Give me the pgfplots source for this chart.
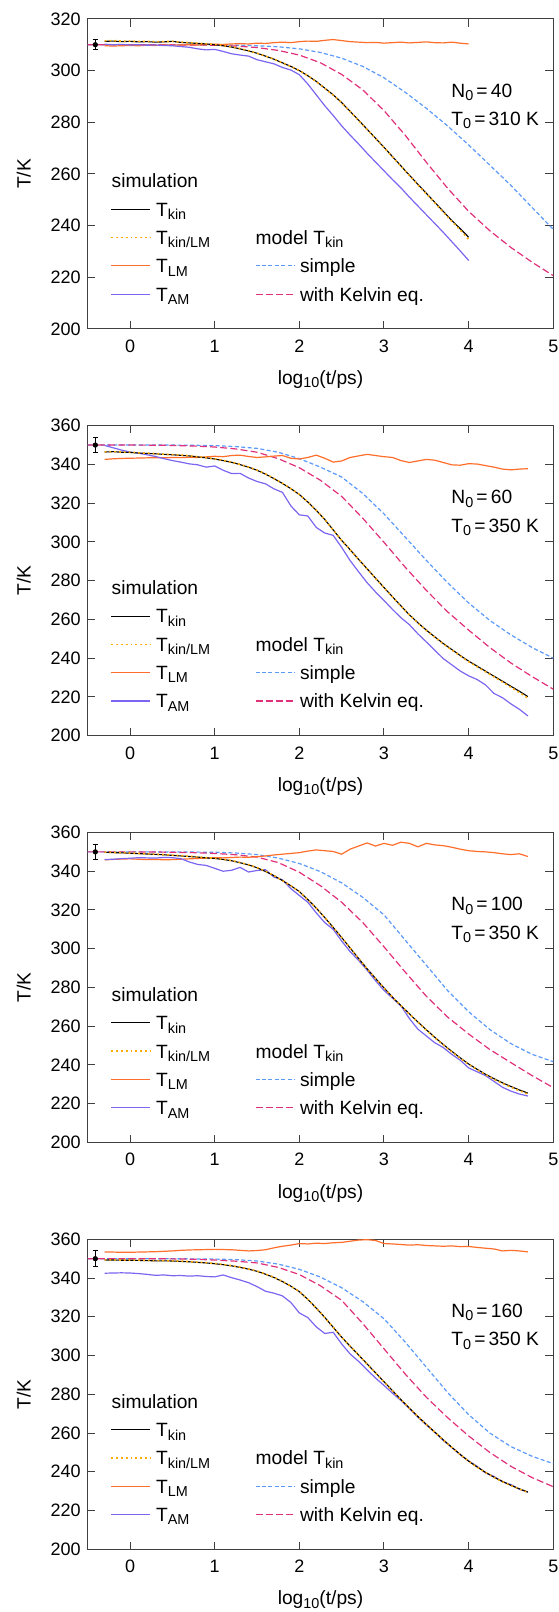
\documentclass[border=0pt]{standalone}
\usepackage{fontspec}
\setmainfont{Liberation Sans}
\usepackage{pgfplots}
\usepackage{pgfplotstable}
\pgfplotsset{compat=1.18}

\definecolor{cLM}{HTML}{FF6E2A}
\definecolor{cKLM}{HTML}{FFAA00}
\definecolor{cAM}{HTML}{7A66F0}
\definecolor{cSimple}{HTML}{5C9AFA}
\definecolor{cKelvin}{HTML}{E0307A}

\newcommand\sub[1]{\raisebox{-1.7pt}{\fontsize{7.2}{8}\selectfont #1}}

\tikzset{
  kin/.style={black, line width=0.55pt},
  kinlm/.style={cKLM, line width=0.8pt, dash pattern=on 0.9pt off 1.5pt},
  lm/.style={cLM, line width=0.6pt},
  am/.style={cAM, line width=0.6pt},
  simple/.style={cSimple, line width=0.6pt, dash pattern=on 2pt off 1.2pt},
  kelvin/.style={cKelvin, line width=0.6pt, dash pattern=on 3.5pt off 1.6pt},
}

% simulation runs: x = log10(t/ps)
\pgfplotstableread{
x kin kinlm lm am
-0.3 311.3 311.5 309.6 310.2
-0.2 311.4 311.6 309.5 310.0
-0.1 311.2 311.4 309.6 310.1
0.0 311.3 311.4 309.7 309.9
0.1 311.1 311.3 309.6 310.0
0.2 311.2 311.3 309.8 309.8
0.3 311.0 311.2 309.7 309.9
0.4 311.1 311.2 309.9 309.7
0.5 311.3 311.3 309.8 309.6
0.6 310.9 311.0 309.9 309.3
0.7 310.7 310.8 310.0 309.0
0.8 310.5 310.6 309.9 308.4
0.9 310.3 310.4 310.1 308.0
1.0 310.0 310.1 310.2 308.2
1.1 309.6 309.7 310.1 307.4
1.2 309.1 309.2 310.3 306.5
1.3 308.4 308.5 310.4 306.0
1.4 307.6 307.7 310.3 305.6
1.5 306.7 306.7 310.6 304.2
1.6 305.6 305.6 310.5 303.4
1.7 304.4 304.4 310.8 302.6
1.8 303.0 303.0 311.0 301.2
1.9 301.6 301.6 310.8 300.2
2.0 300.0 300.0 311.2 298.4
2.1 298.0 298.0 311.4 294.8
2.2 295.8 295.7 311.3 290.6
2.3 293.2 293.1 311.7 286.4
2.4 290.6 290.5 312.0 282.6
2.5 287.6 287.5 311.6 278.6
2.6 284.2 284.1 311.2 275.0
2.7 280.8 280.7 311.0 271.6
2.8 277.3 277.2 310.8 268.0
2.9 273.8 273.7 310.9 264.6
3.0 270.3 270.2 310.6 261.2
3.1 266.7 266.6 310.8 257.8
3.2 263.1 263.0 311.0 254.6
3.3 259.5 259.4 310.7 251.0
3.4 256.0 255.8 310.9 247.6
3.5 252.5 252.3 311.1 244.2
3.6 249.0 248.8 310.8 240.8
3.7 245.5 245.2 310.7 237.4
3.8 242.0 241.7 311.0 233.8
3.9 238.8 238.3 310.6 230.2
4.0 235.5 234.6 310.3 226.5
}\simA

\pgfplotstableread{
x kin kinlm lm am
-0.3 346.4 346.5 342.6 349.8
-0.2 346.6 346.7 342.9 348.6
-0.1 346.3 346.4 343.1 347.4
0.0 346.2 346.3 343.2 346.4
0.1 345.9 346.0 343.3 345.8
0.2 345.7 345.8 343.4 345.0
0.3 345.5 345.6 343.5 344.1
0.4 345.2 345.3 343.4 343.0
0.5 345.0 345.1 343.6 342.0
0.6 344.7 344.8 343.5 341.2
0.7 344.4 344.5 343.7 340.3
0.8 343.9 344.0 343.6 339.8
0.9 343.4 343.5 343.9 338.6
1.0 342.8 342.9 344.2 339.2
1.1 342.0 342.1 344.0 337.0
1.2 341.1 341.2 344.6 335.3
1.3 339.9 340.0 344.8 335.4
1.4 338.6 338.7 344.1 333.0
1.5 337.0 337.1 343.6 331.2
1.6 335.0 335.1 343.9 330.0
1.7 332.7 332.8 344.3 327.4
1.8 330.2 330.3 344.6 325.6
1.9 327.5 327.5 343.2 318.6
2.0 324.5 324.5 342.8 314.0
2.1 320.6 320.6 343.6 313.4
2.2 316.3 316.3 344.8 307.5
2.3 311.6 311.6 343.2 304.6
2.4 306.2 306.2 341.2 303.4
2.5 300.8 300.8 341.8 297.2
2.6 296.0 296.0 343.6 290.4
2.7 291.0 291.0 344.4 284.6
2.8 286.2 286.1 345.2 279.0
2.9 281.3 281.2 344.6 274.2
3.0 276.5 276.4 344.0 269.8
3.1 271.7 271.6 343.6 265.2
3.2 267.0 266.9 342.0 260.9
3.3 262.4 262.3 341.0 257.3
3.4 258.3 258.2 341.8 252.6
3.5 254.5 254.3 342.6 248.4
3.6 251.0 250.8 342.2 244.1
3.7 247.6 247.4 341.0 239.8
3.8 244.5 244.3 339.8 236.6
3.9 241.4 241.2 339.6 233.4
4.0 238.5 238.2 340.4 230.9
4.1 235.9 235.6 340.2 229.0
4.2 233.3 233.0 339.4 226.2
4.3 230.7 230.3 338.6 221.8
4.4 228.1 227.7 337.6 219.6
4.5 225.5 225.0 337.2 216.4
4.6 222.9 222.3 337.6 213.6
4.7 220.2 219.4 337.8 210.2
}\simB

\pgfplotstableread{
x kin kinlm lm am
-0.3 349.8 349.9 345.9 346.0
-0.2 349.6 349.7 346.1 346.2
-0.1 349.5 349.6 346.3 346.5
0.0 349.3 349.4 346.4 346.7
0.1 349.1 349.2 346.2 347.0
0.2 348.9 349.0 346.0 346.9
0.3 348.7 348.8 346.1 346.8
0.4 348.5 348.6 345.9 347.1
0.5 348.2 348.3 346.0 347.0
0.6 347.9 348.0 346.2 346.5
0.7 347.6 347.7 346.4 344.8
0.8 347.3 347.4 346.6 343.5
0.9 346.9 347.0 346.8 343.0
1.0 346.6 346.7 347.0 341.5
1.1 346.1 346.2 346.9 340.0
1.2 345.4 345.5 347.1 340.5
1.3 344.4 344.5 347.3 342.0
1.4 343.3 343.4 347.2 339.6
1.5 341.8 341.9 347.5 340.4
1.6 339.9 340.0 347.9 340.8
1.7 337.7 337.8 348.4 337.0
1.8 335.2 335.2 348.8 335.6
1.9 332.5 332.5 349.2 331.0
2.0 329.5 329.5 349.6 327.5
2.1 325.4 325.4 350.4 324.0
2.2 321.0 321.0 351.0 318.5
2.3 316.1 316.1 350.6 313.5
2.4 311.0 311.0 350.2 310.0
2.5 305.8 305.8 348.8 304.0
2.6 300.4 300.4 351.4 298.5
2.7 295.0 295.0 353.0 294.0
2.8 289.7 289.6 354.6 289.0
2.9 284.7 284.6 353.0 283.5
3.0 279.8 279.7 354.4 278.5
3.1 275.1 275.0 353.4 274.5
3.2 270.7 270.6 355.0 270.5
3.3 266.4 266.3 354.4 264.0
3.4 262.2 262.1 352.6 258.5
3.5 258.2 258.0 354.4 255.0
3.6 254.3 254.1 353.6 251.5
3.7 250.6 250.4 353.2 249.0
3.8 247.1 246.9 352.4 245.5
3.9 243.7 243.5 351.4 242.5
4.0 240.5 240.3 350.6 238.5
4.1 237.8 237.6 350.2 236.5
4.2 235.2 235.0 350.0 234.5
4.3 232.9 232.6 349.6 231.5
4.4 230.8 230.5 349.0 228.5
4.5 228.9 228.5 348.6 226.5
4.6 227.1 226.7 349.0 225.0
4.7 225.5 225.0 347.6 224.0
}\simC

\pgfplotstableread{
x kin kinlm lm am
-0.3 349.3 349.4 353.5 342.5
-0.2 349.3 349.4 353.4 342.6
-0.1 349.2 349.3 353.3 342.7
0.0 349.2 349.3 353.3 342.6
0.1 349.1 349.2 353.4 342.3
0.2 349.0 349.1 353.5 341.9
0.3 348.9 349.0 353.6 341.4
0.4 348.9 349.0 353.8 341.6
0.5 348.8 348.9 354.0 341.2
0.6 348.6 348.7 354.3 341.3
0.7 348.4 348.5 354.5 341.0
0.8 348.1 348.2 354.6 341.2
0.9 347.8 347.9 354.7 340.8
1.0 347.4 347.5 354.8 340.6
1.1 346.9 347.0 354.7 341.6
1.2 346.3 346.4 354.6 340.2
1.3 345.5 345.6 354.3 339.0
1.4 344.6 344.7 354.0 337.6
1.5 343.5 343.6 354.2 335.6
1.6 342.0 342.1 354.6 333.2
1.7 340.3 340.4 355.6 332.2
1.8 338.2 338.3 356.4 330.8
1.9 335.8 335.8 357.0 327.4
2.0 333.0 333.0 357.8 322.0
2.1 329.0 329.0 357.6 319.6
2.2 324.5 324.5 358.0 314.8
2.3 319.7 319.7 357.8 311.4
2.4 314.6 314.6 358.2 312.0
2.5 309.5 309.5 358.4 306.0
2.6 304.8 304.8 359.0 300.8
2.7 300.3 300.3 359.6 297.0
2.8 295.7 295.6 359.8 292.6
2.9 291.1 291.0 359.4 288.4
3.0 286.5 286.4 357.8 284.6
3.1 281.9 281.8 357.6 280.6
3.2 277.3 277.2 357.3 276.8
3.3 272.9 272.8 357.0 272.6
3.4 268.6 268.5 357.2 268.2
3.5 264.5 264.4 356.8 264.2
3.6 260.5 260.4 356.6 260.4
3.7 256.5 256.4 356.4 256.2
3.8 252.7 252.6 356.6 252.6
3.9 249.0 248.9 356.2 248.8
4.0 245.5 245.4 356.3 245.6
4.1 242.5 242.4 355.8 242.8
4.2 239.7 239.6 355.4 239.4
4.3 237.2 237.1 355.0 237.6
4.4 235.0 234.9 354.0 234.8
4.5 233.0 232.9 354.3 233.4
4.6 231.2 231.1 354.0 231.0
4.7 229.5 229.4 353.5 229.6
}\simD

% model curves
\pgfplotstableread{
x simple kelvin
-0.5 310.0 310.0
-0.25 310.0 310.0
0.0 310.0 310.0
0.25 310.0 310.0
0.5 310.0 309.95
0.75 309.95 309.9
1.0 309.9 309.8
1.25 309.8 309.5
1.5 309.6 308.9
1.75 309.2 307.8
2.0 308.4 306.0
2.25 307.0 303.0
2.5 304.8 298.5
2.75 301.6 292.5
3.0 297.2 284.5
3.25 291.6 275.0
3.5 285.4 264.5
3.75 278.6 254.5
4.0 271.2 245.5
4.25 263.4 238.0
4.5 255.5 231.5
4.75 247.0 225.8
5.0 238.5 220.6
}\modA

\pgfplotstableread{
x simple kelvin
-0.5 350.0 350.0
-0.25 350.0 350.0
0.0 350.0 350.0
0.25 350.0 349.95
0.5 350.0 349.8
0.75 349.9 349.5
1.0 349.7 349.0
1.25 349.2 348.0
1.5 348.3 346.3
1.75 346.3 343.0
2.0 343.0 338.3
2.25 338.6 331.8
2.5 333.5 323.5
2.75 325.0 312.2
3.0 314.5 299.8
3.25 302.5 287.0
3.5 290.5 275.0
3.75 279.0 264.0
4.0 268.5 254.5
4.25 259.5 245.5
4.5 252.0 237.5
4.75 245.5 230.5
5.0 240.0 224.0
}\modB

\pgfplotstableread{
x simple kelvin
-0.5 350.0 350.0
-0.25 350.0 350.0
0.0 350.0 350.0
0.25 350.0 349.95
0.5 349.95 349.8
0.75 349.9 349.6
1.0 349.8 349.2
1.25 349.4 348.5
1.5 348.6 347.3
1.75 346.8 344.5
2.0 344.0 339.5
2.25 339.8 332.5
2.5 334.0 324.0
2.75 326.5 313.5
3.0 317.5 301.0
3.25 304.5 288.0
3.5 291.5 275.5
3.75 278.5 264.8
4.0 267.5 256.0
4.25 258.3 248.0
4.5 251.0 241.2
4.75 245.5 234.5
5.0 241.7 228.3
}\modC

\pgfplotstableread{
x simple kelvin
-0.5 350.0 350.0
-0.25 350.0 350.0
0.0 350.0 350.0
0.25 350.0 349.95
0.5 349.95 349.9
0.75 349.9 349.7
1.0 349.8 349.3
1.25 349.5 348.7
1.5 348.8 347.8
1.75 347.2 345.5
2.0 344.5 341.8
2.25 340.5 336.0
2.5 335.0 328.5
2.75 327.8 316.5
3.0 319.0 303.5
3.25 307.0 290.5
3.5 294.0 278.5
3.75 281.0 268.0
4.0 269.5 258.5
4.25 260.0 250.0
4.5 253.0 242.8
4.75 248.0 237.0
5.0 244.2 232.3
}\modD

\pgfplotsset{
  panel/.style={
    scale only axis, width=232.8pt, height=155pt,
    xmin=-0.5, xmax=5, xtick={0,1,2,3,4,5},
    tick align=inside, tick pos=both, major tick length=3.9pt,
    axis line style={black!75, line width=0.5pt},
    every tick/.style={black!75, line width=0.5pt},
    /pgf/number format/assume math mode=true,
    tick label style={font=\fontsize{9}{10}\selectfont},
    xticklabel style={inner sep=0pt, anchor=base, yshift=-11.7pt},
    yticklabel style={inner sep=0pt, anchor=east, xshift=-3.3pt},
    xlabel={log\sub{10}(t/ps)}, ylabel={T/K},
    xlabel style={at={(axis description cs:0.5,0)}, anchor=base, yshift=-27.8pt},
    ylabel style={at={(axis description cs:-0.1375,0.5)}, anchor=center},
    legend columns=2, legend cell align=left,
    legend image code/.code={\draw[#1] (0pt,3.45pt) -- (19.3pt,3.45pt);},
    legend style={draw=none, fill=none, inner sep=0pt, outer sep=0pt,
      at={(axis description cs:0.0494,0.5)}, anchor=north west,
      cells={anchor=base west},
      nodes={inner sep=0pt, text height=7pt, text depth=3.4pt},
      row sep=3.75pt,
      /tikz/every odd column/.append style={column sep=2.6pt},
      /tikz/column 2/.style={column sep=2.6pt, nodes={text width=46.9pt}}},
  },
}

\newcommand\panellegend{%
  \addlegendimage{empty legend}\addlegendentry{\hspace*{-22.2pt}simulation}
  \addlegendimage{empty legend}\addlegendentry{}
  \addlegendimage{kin}\addlegendentry{T\sub{kin}}
  \addlegendimage{empty legend}\addlegendentry{}
  \addlegendimage{kinlm}\addlegendentry{T\sub{kin/LM}}
  \addlegendimage{empty legend}\addlegendentry{\hspace*{-22.2pt}model T\sub{kin}}
  \addlegendimage{lm}\addlegendentry{T\sub{LM}}
  \addlegendimage{simple}\addlegendentry{simple}
  \addlegendimage{am}\addlegendentry{T\sub{AM}}
  \addlegendimage{kelvin}\addlegendentry{with Kelvin eq.}
}

\newcommand\panelplots[2]{%
  \addplot[simple, forget plot] table[x=x, y=simple] {#2};
  \addplot[kelvin, forget plot] table[x=x, y=kelvin] {#2};
  \addplot[lm, forget plot] table[x=x, y=lm] {#1};
  \addplot[am, forget plot] table[x=x, y=am] {#1};
  \addplot[kin, forget plot] table[x=x, y=kin] {#1};
  \addplot[kinlm, forget plot] table[x=x, y=kinlm] {#1};
}

\begin{document}
\begin{tikzpicture}[font=\fontsize{9.6}{11}\selectfont]
\useasboundingbox (-43.85pt,-31.35pt) rectangle (235.15pt,774.65pt);

% N0 = 40
\begin{axis}[panel, at={(0pt,610.2pt)}, ymin=200, ymax=320, ytick={200,220,...,320}]
\panelplots{\simA}{\modA}
\addplot[black, mark=*, mark size=1.1pt, only marks, forget plot,
  error bars/.cd, y dir=both, y explicit, error bar style={line width=0.5pt},
  error mark options={rotate=90, mark size=1.4pt, line width=0.5pt}]
  coordinates {(-0.41,310) +- (0,2)};
\panellegend
\node[anchor=base west] at (rel axis cs:0.766,0.748) {N\sub{0}\,=\,40};
\node[anchor=base west] at (rel axis cs:0.766,0.656) {T\sub{0}\,=\,310 K};
\end{axis}

% N0 = 60
\begin{axis}[panel, at={(0pt,406.8pt)}, ymin=200, ymax=360, ytick={200,220,...,360}]
\panelplots{\simB}{\modB}
\addplot[black, mark=*, mark size=1.1pt, only marks, forget plot,
  error bars/.cd, y dir=both, y explicit, error bar style={line width=0.5pt},
  error mark options={rotate=90, mark size=1.4pt, line width=0.5pt}]
  coordinates {(-0.41,350) +- (0,4)};
\panellegend
\node[anchor=base west] at (rel axis cs:0.766,0.748) {N\sub{0}\,=\,60};
\node[anchor=base west] at (rel axis cs:0.766,0.656) {T\sub{0}\,=\,350 K};
\end{axis}

% N0 = 100
\begin{axis}[panel, at={(0pt,203.4pt)}, ymin=200, ymax=360, ytick={200,220,...,360}]
\panelplots{\simC}{\modC}
\addplot[black, mark=*, mark size=1.1pt, only marks, forget plot,
  error bars/.cd, y dir=both, y explicit, error bar style={line width=0.5pt},
  error mark options={rotate=90, mark size=1.4pt, line width=0.5pt}]
  coordinates {(-0.41,350) +- (0,4)};
\panellegend
\node[anchor=base west] at (rel axis cs:0.766,0.748) {N\sub{0}\,=\,100};
\node[anchor=base west] at (rel axis cs:0.766,0.656) {T\sub{0}\,=\,350 K};
\end{axis}

% N0 = 160
\begin{axis}[panel, at={(0pt,0pt)}, ymin=200, ymax=360, ytick={200,220,...,360}]
\panelplots{\simD}{\modD}
\addplot[black, mark=*, mark size=1.1pt, only marks, forget plot,
  error bars/.cd, y dir=both, y explicit, error bar style={line width=0.5pt},
  error mark options={rotate=90, mark size=1.4pt, line width=0.5pt}]
  coordinates {(-0.41,350) +- (0,4)};
\panellegend
\node[anchor=base west] at (rel axis cs:0.766,0.748) {N\sub{0}\,=\,160};
\node[anchor=base west] at (rel axis cs:0.766,0.656) {T\sub{0}\,=\,350 K};
\end{axis}
\end{tikzpicture}
\end{document}
